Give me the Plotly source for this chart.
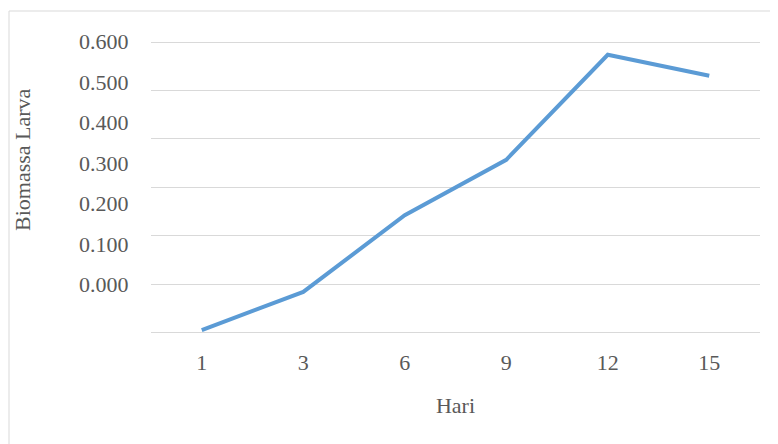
import plotly.graph_objects as go

hari = ["1", "3", "6", "9", "12", "15"]
biomassa = [-0.113, -0.0185, 0.171, 0.308, 0.5675, 0.5157]
label_vals = [0.0, 0.1, 0.2, 0.3, 0.4, 0.5, 0.6]
label_text = ["0.000", "0.100", "0.200", "0.300", "0.400", "0.500", "0.600"]
grid_vals = [-0.12, 0.0, 0.12, 0.24, 0.36, 0.48, 0.597]

FONT = "Liberation Serif, Times New Roman, serif"
GREY = "#595959"
FS = 22

# page is shown with an 8px body margin; layout numbers are in figure pixels
L, R, T, B = 143, 26, 33, 117
PW = 778 - L - R
PH = 444 - T - B

fig = go.Figure()
fig.add_trace(go.Scatter(
    x=hari, y=biomassa, mode="lines",
    line=dict(color="#5B9BD5", width=4),
    showlegend=False, cliponaxis=False,
))

fig.update_layout(
    width=778, height=444,
    margin=dict(l=L, r=R, t=T, b=B, autoexpand=False),
    paper_bgcolor="white", plot_bgcolor="rgba(0,0,0,0)",
    font=dict(family=FONT, size=FS, color=GREY),
    xaxis=dict(
        type="category", range=[-0.5, 5.5], automargin=False,
        showgrid=False, zeroline=False, showline=False,
        ticks="outside", ticklen=8, tickcolor="rgba(0,0,0,0)",
        title=dict(text="Hari", standoff=23, font=dict(size=FS, color=GREY)),
        tickfont=dict(size=FS, color=GREY),
    ),
    yaxis=dict(
        range=[-0.125, 0.6015], automargin=False,
        tickvals=label_vals, ticktext=label_text,
        showgrid=False, zeroline=False, showline=False,
        ticks="outside", ticklen=17, tickcolor="rgba(0,0,0,0)",
        tickfont=dict(size=FS, color=GREY),
        minor=dict(tickvals=grid_vals, showgrid=True, gridcolor="#D9D9D9",
                   gridwidth=1, ticks=""),
    ),
    annotations=[dict(
        text="Biomassa Larva", textangle=-90, showarrow=False,
        xref="paper", yref="paper",
        x=(14 - L) / PW, y=(444 - B - 152) / PH,
        xanchor="center", yanchor="middle",
        font=dict(size=FS, color=GREY, family=FONT),
    )],
    shapes=[dict(
        type="rect", xref="paper", yref="paper",
        x0=(1 - L) / PW, x1=(800 - L) / PW,
        y0=(444 - B - 470) / PH, y1=(444 - B - 3) / PH,
        line=dict(color="#D9D9D9", width=1), fillcolor="rgba(0,0,0,0)",
        layer="below",
    )],
)

fig.write_html("out.html")
